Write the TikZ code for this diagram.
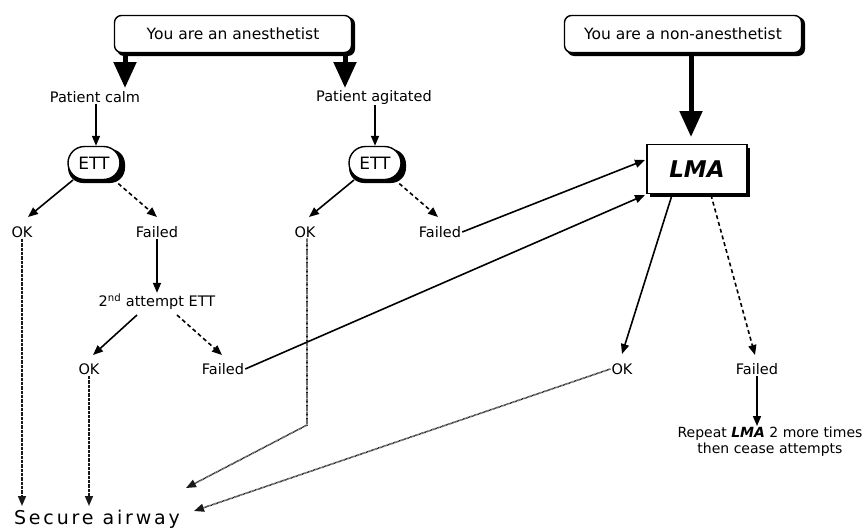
\documentclass[tikz,border=0pt]{standalone}
\usepackage{fontspec}
\setmainfont{DejaVu Sans}
\usetikzlibrary{arrows.meta,shapes.misc,calc}
\begin{document}
\begin{tikzpicture}[x=1pt,y=-1pt,
  txt/.style={font=\fontsize{14.5}{17}\selectfont, inner sep=1pt},
  ibox/.style={draw, line width=1.4pt, rounded corners=7pt, fill=white, minimum width=237pt, minimum height=37pt, font=\fontsize{15.5}{17}\selectfont},
  ettbox/.style={draw, line width=1.4pt, rounded rectangle, fill=white, minimum width=56pt, minimum height=33pt, inner sep=2pt, font=\fontsize{17}{20}\selectfont},
  arr/.style={-{Triangle[length=10pt,width=8pt]}, line width=1.6pt},
  darr/.style={arr, dash pattern=on 4pt off 3pt},
  dotarr/.style={-{Triangle[length=10pt,width=8pt]}, line width=1.6pt, dash pattern=on 0.7pt off 0.6pt, draw=black!90},
  bigarr/.style={-{Triangle[length=26pt,width=22pt]}, line width=5pt}
]
\useasboundingbox (0,0) rectangle (866,530);
% shadows
\fill[black] (117,17) [rounded corners=7pt] rectangle (355,56);
\fill[black] (567,17) [rounded corners=7pt] rectangle (805,56);
\node[ibox] (anes) at (233,34) {You are an anesthetist};
\node[ibox] (non) at (683,34) {You are a non-anesthetist};

\node[txt] (calm) at (95,97) {Patient calm};
\node[txt] (agit) at (374,97) {Patient agitated};

\fill[black, rounded corners=15pt] (68,149) rectangle (125,183);
\node[ettbox] (ett1) at (94,163) {ETT};
\fill[black, rounded corners=15pt] (349,149) rectangle (406,183);
\node[ettbox] (ett2) at (375,163) {ETT};

\fill[black] (650,148) rectangle (750,197);
\node[draw, line width=1.6pt, fill=white, minimum width=100pt, minimum height=49pt, font=\fontsize{23}{25}\selectfont\bfseries\itshape] (lma) at (697,169) {LMA};

\node[txt] (ok1) at (22,232) {OK};
\node[txt] (f1) at (157,232) {Failed};
\node[txt] (ok2) at (305,232) {OK};
\node[txt] (f2) at (440,232) {Failed};
\node[txt] (att) at (157,302) {2\textsuperscript{nd} attempt ETT};
\node[txt] (ok3) at (89,369) {OK};
\node[txt] (f3) at (223,369) {Failed};
\node[txt] (ok4) at (622,369) {OK};
\node[txt] (f4) at (757,369) {Failed};
\node[txt, align=center, font=\fontsize{14}{16}\selectfont] (rep) at (770,442) {Repeat {\bfseries\itshape LMA} 2 more times\\then cease attempts};
\node[inner sep=1pt, font=\fontsize{19}{21}\selectfont\addfontfeature{LetterSpace=15}] (sec) at (97,519) {Secure airway};

% thick arrows
\draw[bigarr] (anes.south -| 125,0) -- (125,88);
\draw[bigarr] (anes.south -| 345,0) -- (345,88);
\draw[bigarr] (non.south -| 691,0) -- (691,137);

% arrows
\draw[arr] (calm.south -| 96,0) -- (ett1.north -| 96,0);
\draw[arr] (agit.south -| 375,0) -- (ett2.north -| 375,0);
\draw[arr] (73,180) -- (28,217);
\draw[darr] (113,179) -- (157,217);
\draw[arr] (354,180) -- (309,217);
\draw[darr] (394,179) -- (438,217);
\draw[arr] (f1.south) -- (att.north);
\draw[arr] (137,315) -- (93,355);
\draw[darr] (177,315) -- (222,355);
\draw[arr] (f2.east) -- (645,160);
\draw[arr] (f3.east) -- (645,195);
\draw[arr] (672,195) -- (622,354);
\draw[darr] (711,195) -- (755,355);
\draw[arr] (f4.south) -- (rep.north -| f4.south);

% dotted to secure airway
\draw[dotarr] (ok1.south) -- (22,506);
\draw[dotarr] (ok3.south) -- (89,506);
\draw[dotarr] (ok2.south -| 307,0) -- (307,425) -- (186,488);
\draw[dotarr] (ok4.west) -- (194,511);
\end{tikzpicture}
\end{document}
